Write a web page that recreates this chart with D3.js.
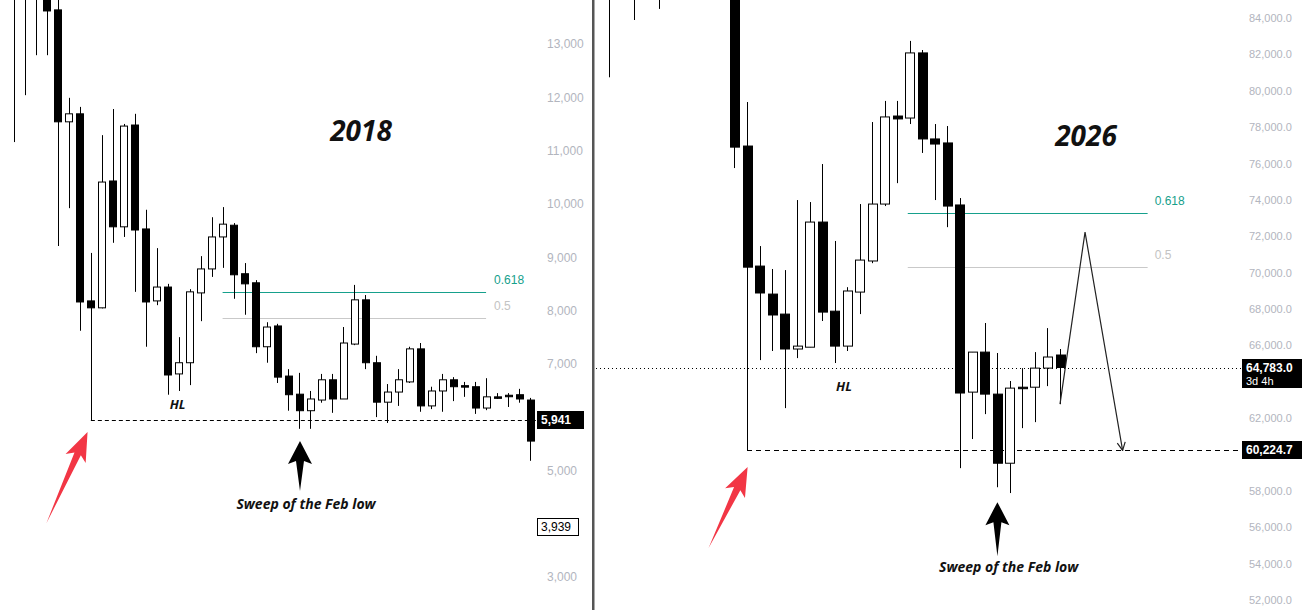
<!DOCTYPE html>
<html>
<head>
<meta charset="utf-8">
<script src="https://cdn.jsdelivr.net/npm/d3@7"></script>
<style>
  body { margin: 0; background: #fff; }
  svg { display: block; }
</style>
</head>
<body>
<div id="chart"></div>
<script>
// ---- data: 2018 panel (candle index, open / high / low / close) ----
var open2018  = [14300, 14100, 14000, 14000, 13640, 11540, 11690, 8180, 8050, 10430, 9570, 11480, 9530, 8180, 8440, 6810, 7020, 8330, 8780, 9380, 9600, 8690, 8520, 7320, 7710, 6770, 6430, 6120, 6320, 6700, 6340, 7370, 8200, 7020, 6280, 6470, 6660, 7280, 6210, 6490, 6700, 6590, 6570, 6170, 6380, 6410, 6420, 6320];
var high2018  = [14500, 14300, 14200, 14200, 13900, 11990, 11820, 9080, 11290, 11780, 11500, 11690, 9890, 9170, 8500, 7500, 8400, 9020, 9750, 9940, 9640, 8890, 8570, 7780, 7750, 6900, 6830, 6490, 6810, 6810, 7690, 8480, 8290, 7150, 6620, 6900, 7320, 7390, 6570, 6810, 6750, 6660, 6660, 6730, 6450, 6450, 6530, 6360];
var low2018   = [11160, 12040, 12790, 12790, 9210, 9920, 7620, 5941, 8040, 9270, 9380, 8350, 7320, 8100, 6420, 6490, 6600, 7800, 8630, 8800, 8220, 7920, 7200, 7020, 6640, 6120, 5780, 5780, 6270, 6080, 6340, 7350, 6900, 6000, 5890, 6210, 6640, 6100, 6150, 6100, 6300, 6380, 6060, 6130, 6340, 6190, 6270, 5180];
var close2018 = [14100, 13950, 13900, 13620, 11540, 11690, 8160, 8050, 10410, 9570, 11460, 9510, 8160, 8440, 6790, 7020, 8350, 8780, 9380, 9620, 8670, 8500, 7320, 7690, 6750, 6420, 6120, 6340, 6700, 6340, 7390, 8200, 7020, 6280, 6470, 6700, 7280, 6210, 6490, 6700, 6570, 6570, 6170, 6380, 6370, 6405, 6340, 5550];
// 4,000 and 6,000 sit behind the price tags
var ticks2018 = [3000, 5000, 7000, 8000, 9000, 10000, 11000, 12000, 13000];

// ---- data: 2026 panel ----
var open2026  = [88500, 89000, 88000, 88500, 88000, 87500, 88500, 87800, 88800, 88200, 87800, 76960, 70360, 68820, 67720, 65800, 65900, 72780, 67880, 65960, 68930, 70640, 73770, 78610, 78500, 82080, 77350, 77130, 73720, 63430, 65630, 63320, 59520, 63700, 63700, 64750, 65470];
var high2026  = [89000, 89500, 88500, 89000, 88500, 89000, 89200, 89500, 89800, 88500, 88200, 79380, 71460, 70200, 70140, 73990, 73880, 75970, 71740, 69200, 73770, 78280, 79440, 79440, 82740, 82240, 78170, 78060, 74100, 65630, 67230, 65580, 64040, 64750, 65630, 66950, 65800];
var low2026   = [80740, 86000, 83890, 86500, 84500, 86000, 86200, 86500, 87000, 86000, 75750, 60224.7, 65190, 65690, 62550, 65300, 65900, 67340, 65030, 65690, 67720, 70520, 73660, 74920, 78170, 76580, 73990, 72500, 59250, 60850, 62220, 58200, 57880, 61450, 61780, 63760, 62770];
var close2026 = [87000, 88000, 87500, 87800, 87000, 88500, 87800, 88800, 88200, 87800, 76900, 70300, 68880, 67670, 65800, 65960, 72780, 67830, 65960, 68990, 70690, 73770, 78560, 78450, 82080, 77350, 77070, 73660, 63380, 65630, 63320, 59520, 63650, 63650, 64750, 65360, 64783];
// 60,000 and 64,000 sit behind the price tags
var ticks2026 = [52000, 54000, 56000, 58000, 62000, 66000, 68000, 70000, 72000, 74000, 76000, 78000, 80000, 82000, 84000];

// fib levels, key prices, projection path (candle index, price)
var fib2018 = [{ label: "0.618", value: 8347 }, { label: "0.5", value: 7859 }];
var fib2026 = [{ label: "0.618", value: 73275 }, { label: "0.5", value: 70305 }];
var febLow2018 = 5941, last2018 = 5941, mark2018 = 3939;
var febLow2026 = 60224.7, last2026 = 64783.0;
var projection2026 = [[36, 62770], [38, 72230], [41, 60224.7]];

function toCandles(o, h, l, c) {
    return o.map(function (v, i) { return { i: i, o: v, h: h[i], l: l[i], c: c[i] }; });
}
var candles2018 = toCandles(open2018, high2018, low2018, close2018);
var candles2026 = toCandles(open2026, high2026, low2026, close2026);

var width = 1302, height = 610;
var font = "'Open Sans', 'DejaVu Sans', sans-serif";
var teal = "#16a08c";

var svg = d3.select("#chart")
    .append("svg")
    .attr("width", width)
    .attr("height", height)
    .style("background", "#fff");

// scales
var xL = d3.scaleLinear().domain([0, 47]).range([14, 530]);
var yL = d3.scaleLinear().domain([3000, 13000]).range([577, 44]);
var xR = d3.scaleLinear().domain([11, 36]).range([747, 1060]);
var yR = d3.scaleLinear().domain([52000, 84000]).range([600, 18]);

var defs = svg.append("defs");
defs.append("clipPath").attr("id", "clipL").append("rect").attr("x", 0).attr("y", 0).attr("width", 537).attr("height", height);
defs.append("clipPath").attr("id", "clipR").append("rect").attr("x", 596).attr("y", 0).attr("width", 646).attr("height", height);
defs.append("marker")
    .attr("id", "head")
    .attr("viewBox", "0 0 10 10")
    .attr("refX", 9).attr("refY", 5)
    .attr("markerWidth", 10).attr("markerHeight", 10)
    .attr("markerUnits", "userSpaceOnUse")
    .attr("orient", "auto")
    .append("path")
    .attr("d", "M1,1 L9,5 L1,9")
    .attr("fill", "none")
    .attr("stroke", "#222")
    .attr("stroke-width", 1.2);

var px = function (v) { return Math.round(v) + 0.5; };

// candles
function drawCandles(g, data, x, y, bw) {
    g.selectAll(".wick")
        .data(data)
        .enter()
        .append("line")
        .attr("x1", function (d) { return px(x(d.i)); })
        .attr("x2", function (d) { return px(x(d.i)); })
        .attr("y1", function (d) { return y(d.h); })
        .attr("y2", function (d) { return y(d.l); })
        .attr("stroke", "#000")
        .attr("stroke-width", 1);

    g.selectAll(".body")
        .data(data)
        .enter()
        .append("rect")
        .attr("x", function (d) { return px(x(d.i) - bw / 2); })
        .attr("y", function (d) { return y(Math.max(d.o, d.c)); })
        .attr("width", bw)
        .attr("height", function (d) { return Math.max(1.5, Math.abs(y(d.o) - y(d.c))); })
        .attr("fill", function (d) { return d.c >= d.o ? "#fff" : "#000"; })
        .attr("stroke", "#000")
        .attr("stroke-width", 1);
}

// horizontal levels
function hline(g, x1, x2, yv, color, dash) {
    g.append("line")
        .attr("x1", x1).attr("x2", x2)
        .attr("y1", px(yv)).attr("y2", px(yv))
        .attr("stroke", color)
        .attr("stroke-width", 1)
        .attr("stroke-dasharray", dash || null);
}

function priceAxis(xpos, y, ticks, fmt, size) {
    var ax = svg.append("g")
        .attr("transform", "translate(" + xpos + ",0)")
        .call(d3.axisRight(y).tickValues(ticks).tickSize(0).tickPadding(0).tickFormat(fmt));
    ax.select(".domain").remove();
    ax.selectAll("text")
        .attr("fill", "#b2b5be")
        .style("font-family", "Arial, 'Liberation Sans', sans-serif")
        .style("font-size", size + "px");
}

function priceTag(x0, w, yv, lines, dark) {
    var h = lines.length > 1 ? 28 : 17;
    var top = yv - 9;
    svg.append("rect")
        .attr("x", x0 + 0.5).attr("y", Math.round(top) + 0.5)
        .attr("width", w).attr("height", h)
        .attr("fill", dark ? "#000" : "#fff")
        .attr("stroke", "#000");
    lines.forEach(function (t, k) {
        svg.append("text")
            .attr("x", x0 + 4)
            .attr("y", top + 13 + k * 13)
            .attr("fill", dark ? "#fff" : "#000")
            .style("font-family", "Arial, 'Liberation Sans', sans-serif")
            .style("font-size", (k === 0 ? 12 : 11) + "px")
            .style("font-weight", dark && k === 0 ? "bold" : "normal")
            .text(t);
    });
}

function redArrow(g, tx, ty, len, ang) {
    g.append("path")
        .attr("d", "M0,0 L" + (len - 24) + ",-3.5 L" + (len - 29) + ",-11 L" + len + ",0 L" + (len - 29) + ",11 L" + (len - 24) + ",3.5 Z")
        .attr("transform", "translate(" + tx + "," + ty + ") rotate(" + ang + ") translate(" + (-len) + ",0)")
        .attr("fill", "#f23645");
}

function blackArrow(g, tx, ty, len) {
    g.append("path")
        .attr("d", "M0,0 L12,23 L4,20 L0," + len + " L-4,20 L-12,23 Z")
        .attr("transform", "translate(" + tx + "," + ty + ")")
        .attr("fill", "#000");
}

function label(g, x, y, txt, size, anchor) {
    g.append("text")
        .attr("x", x).attr("y", y)
        .attr("text-anchor", anchor || "middle")
        .attr("fill", "#111")
        .style("font-family", font)
        .style("font-style", "italic")
        .style("font-weight", 700)
        .style("font-size", size + "px")
        .text(txt);
}

// ================= 2018 panel =================
var gL = svg.append("g").attr("clip-path", "url(#clipL)");

fib2018.forEach(function (f, k) {
    hline(gL, xL(19), xL(43), yL(f.value), k === 0 ? teal : "#c9c9c9");
    svg.append("text")
        .attr("x", xL(43) + 8).attr("y", yL(f.value) - 8)
        .attr("fill", k === 0 ? teal : "#c3c3c3")
        .style("font-family", "Arial, sans-serif").style("font-size", "12px")
        .text(f.label);
});
hline(gL, xL(7), 537, yL(febLow2018), "#000", "4,3");
drawCandles(gL, candles2018, xL, yL, 7);

priceAxis(547, yL, ticks2018, d3.format(","), 12);
priceTag(537, 46, yL(last2018), [d3.format(",")(last2018)], true);
priceTag(537, 41, yL(mark2018), [d3.format(",")(mark2018)], false);

label(svg, 361, 141, "2018", 28);
label(svg, xL(14.9), yL(6245) + 5, "HL", 13);
redArrow(svg, xL(6.7), yL(5720), 100, -65.7);
blackArrow(svg, xL(26.05), yL(5551), 50);
label(svg, xL(26.6), 509, "Sweep of the Feb low", 14);

// divider between the two screenshots
svg.append("rect").attr("x", 592).attr("y", 0).attr("width", 2.5).attr("height", height).attr("fill", "#555");

// ================= 2026 panel =================
var gR = svg.append("g").attr("clip-path", "url(#clipR)");

fib2026.forEach(function (f, k) {
    hline(gR, xR(24) - 2, xR(43), yR(f.value), k === 0 ? teal : "#c9c9c9");
    svg.append("text")
        .attr("x", xR(43) + 7).attr("y", yR(f.value) - 8)
        .attr("fill", k === 0 ? teal : "#c3c3c3")
        .style("font-family", "Arial, sans-serif").style("font-size", "12px")
        .text(f.label);
});
hline(gR, 596, 1242, yR(last2026), "#000", "1,3");
hline(gR, xR(11), 1242, yR(febLow2026), "#000", "5,4");
drawCandles(gR, candles2026, xR, yR, 9);

gR.append("path")
    .datum(projection2026)
    .attr("d", d3.line().x(function (d) { return xR(d[0]); }).y(function (d) { return yR(d[1]); }))
    .attr("fill", "none")
    .attr("stroke", "#222")
    .attr("stroke-width", 1.2)
    .attr("marker-end", "url(#head)");

priceAxis(1249, yR, ticks2026, d3.format(",.1f"), 11);
priceTag(1242, 62, yR(last2026), [d3.format(",.1f")(last2026), "3d 4h"], true);
priceTag(1242, 62, yR(febLow2026), [d3.format(",.1f")(febLow2026)], true);

label(svg, 1086, 146, "2026", 28);
label(svg, xR(18.75), yR(63760) + 5, "HL", 13);
redArrow(svg, xR(11.05), 467, 90, -64.3);
blackArrow(svg, xR(31), yR(57380), 54);
label(svg, xR(31.9), 572, "Sweep of the Feb low", 14);
</script>
</body>
</html>
